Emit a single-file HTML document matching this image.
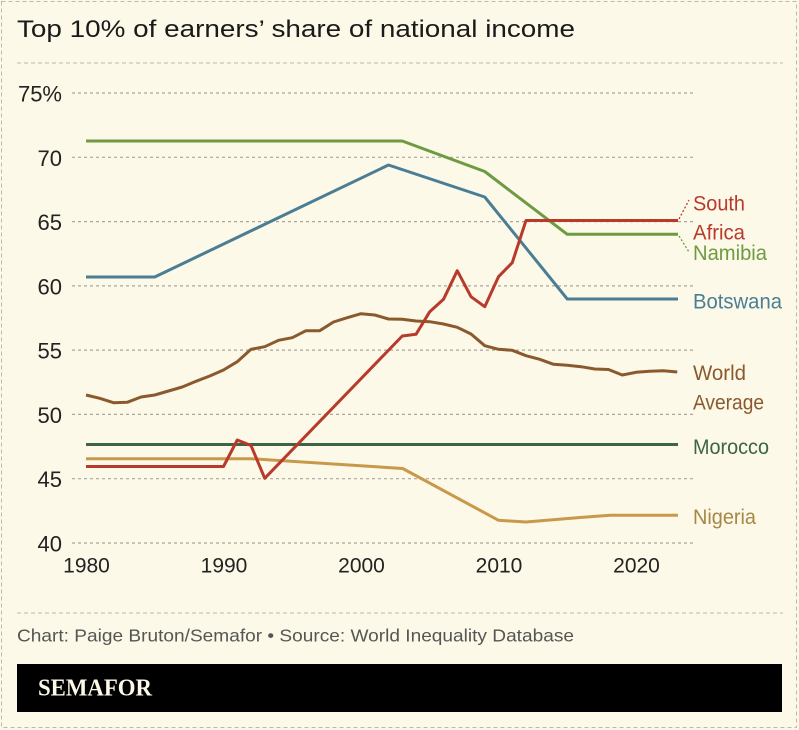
<!DOCTYPE html>
<html><head><meta charset="utf-8"><style>
html,body{margin:0;padding:0;background:#FCF9E8;}
svg{display:block;}
</style></head><body>
<svg width="799" height="730" viewBox="0 0 799 730" xmlns="http://www.w3.org/2000/svg">
<rect x="0" y="0" width="799" height="730" fill="#FCF9E8"/>
<rect x="1.5" y="1.5" width="795" height="726" fill="none" stroke="#bdb9ab" stroke-width="1" stroke-dasharray="4,3"/>
<text x="17" y="37" font-family="Liberation Sans, sans-serif" font-size="24.5" fill="#1a1a1a" textLength="558" lengthAdjust="spacingAndGlyphs">Top 10% of earners’ share of national income</text>
<line x1="17" y1="63" x2="783" y2="63" stroke="#bdb9ab" stroke-width="1" stroke-dasharray="4,3"/>
<g stroke="#a9a69c" stroke-width="1.2" stroke-dasharray="3,3">
<line x1="72" y1="93" x2="693" y2="93"/>
<line x1="72" y1="157.3" x2="693" y2="157.3"/>
<line x1="72" y1="221.6" x2="693" y2="221.6"/>
<line x1="72" y1="285.9" x2="693" y2="285.9"/>
<line x1="72" y1="350.1" x2="693" y2="350.1"/>
<line x1="72" y1="414.4" x2="693" y2="414.4"/>
<line x1="72" y1="478.7" x2="693" y2="478.7"/>
<line x1="72" y1="543" x2="693" y2="543"/>
</g>
<g font-family="Liberation Sans, sans-serif" font-size="22" fill="#222" text-anchor="end">
<text x="62" y="101.5">75%</text>
<text x="62" y="165.8">70</text>
<text x="62" y="230.1">65</text>
<text x="62" y="294.4">60</text>
<text x="62" y="358.6">55</text>
<text x="62" y="422.9">50</text>
<text x="62" y="487.2">45</text>
<text x="62" y="551.5">40</text>
</g>
<g font-family="Liberation Sans, sans-serif" font-size="21" fill="#222" text-anchor="middle">
<text x="86.5" y="572.5">1980</text>
<text x="224" y="572.5">1990</text>
<text x="361.5" y="572.5">2000</text>
<text x="499" y="572.5">2010</text>
<text x="636.5" y="572.5">2020</text>
</g>
<g fill="none" stroke-width="3" stroke-linejoin="round" stroke-linecap="butt">
<polyline stroke="#C8994A" points="86,458.7 251,458.7 402.7,468.5 498.5,520.3 526,522 580,517.5 610,515.3 678,515.3"/>
<polyline stroke="#3D6446" points="86,444.5 678,444.5"/>
<polyline stroke="#8A5A2E" points="86,395 99.75,398.3 113.5,402.7 127.25,402.3 141,397 154.75,395 168.5,391 182.25,387 196,381.3 209.75,376 223.5,370 237.25,361.7 251,349.3 264.75,346.7 278.5,340.3 292.25,337.7 306,330.7 319.75,330.7 333.5,322 347.25,317.7 361,313.7 374.75,315 388.5,319 402.25,319.3 416,321 429.75,321.7 443.5,324 457.25,327.3 471,334 484.75,345.7 498.5,349.3 512.25,350.3 526,355.7 539.75,359.3 553.5,364.3 567.25,365.3 581,366.7 594.75,369 608.5,369.5 622.25,375 636,372.3 649.75,371.3 663.5,370.7 677.25,372"/>
<polyline stroke="#4B7E94" points="86,277 154.75,277 388.5,165 484.75,197 567.25,299 678,299"/>
<polyline stroke="#6E9A41" points="86,141 402.25,141 484.75,171.5 567.25,234.3 678,234.3"/>
<polyline stroke="#B83A2C" points="86,466.5 223.5,466.5 237.25,440 251,445.5 264.75,478.3 402.25,336 416,334.3 429.75,311.7 443.5,299.3 457.25,270.7 471,296.7 484.75,306.7 498.5,276.7 512.25,262.7 526,220.5 678,220.5"/>
</g>
<line x1="679" y1="219" x2="689" y2="200" stroke="#B83A2C" stroke-width="1.3" stroke-dasharray="2,2"/>
<line x1="679" y1="236" x2="689" y2="252" stroke="#6E9A41" stroke-width="1.3" stroke-dasharray="2,2"/>
<g font-family="Liberation Sans, sans-serif" font-size="21" lengthAdjust="spacingAndGlyphs">
<text x="693" y="210.7" fill="#B83A2C" textLength="52" lengthAdjust="spacingAndGlyphs">South</text>
<text x="693" y="239.3" fill="#B83A2C" textLength="52" lengthAdjust="spacingAndGlyphs">Africa</text>
<text x="693" y="260" fill="#6E9A41" textLength="74" lengthAdjust="spacingAndGlyphs">Namibia</text>
<text x="693" y="308.3" fill="#4B7E94" textLength="89" lengthAdjust="spacingAndGlyphs">Botswana</text>
<text x="693" y="380" fill="#8A5A2E" textLength="53" lengthAdjust="spacingAndGlyphs">World</text>
<text x="693" y="409.3" fill="#8A5A2E" textLength="71" lengthAdjust="spacingAndGlyphs">Average</text>
<text x="693" y="454" fill="#3D6446" textLength="76" lengthAdjust="spacingAndGlyphs">Morocco</text>
<text x="693" y="524" fill="#A88744" textLength="63" lengthAdjust="spacingAndGlyphs">Nigeria</text>
</g>
<line x1="17" y1="613" x2="783" y2="613" stroke="#bdb9ab" stroke-width="1" stroke-dasharray="4,3"/>
<text x="17" y="641.7" font-family="Liberation Sans, sans-serif" font-size="17.5" fill="#555" textLength="557" lengthAdjust="spacingAndGlyphs">Chart: Paige Bruton/Semafor • Source: World Inequality Database</text>
<rect x="17" y="664" width="765" height="48" fill="#000"/>
<text x="38" y="695.7" font-family="Liberation Serif, serif" font-weight="bold" font-size="24" fill="#FCF9E8" textLength="114" lengthAdjust="spacingAndGlyphs">SEMAFOR</text>
</svg>
</body></html>
